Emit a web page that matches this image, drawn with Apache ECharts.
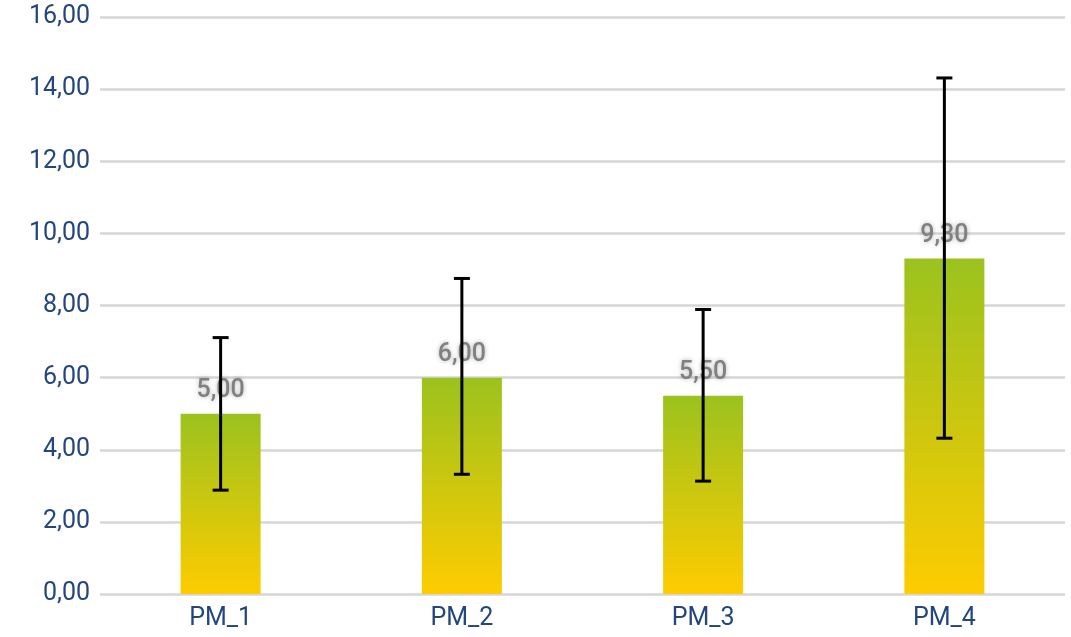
<!DOCTYPE html>
<html>
<head>
<meta charset="utf-8">
<script src="https://cdn.jsdelivr.net/npm/echarts@6/dist/echarts.min.js"></script>
<style>
html,body{margin:0;padding:0;background:#fff;}
#chart{width:1071px;height:637px;}
</style>
</head>
<body>
<div id="chart"></div>
<script>
const categories = ['PM_1', 'PM_2', 'PM_3', 'PM_4'];
const values = [5.00, 6.00, 5.50, 9.30];
const errLow = [2.88, 3.32, 3.13, 4.32];
const errHigh = [7.11, 8.75, 7.89, 14.31];
const yTicks = { min: 0, max: 16, interval: 2 };

const fmt = v => Number(v).toFixed(2).replace('.', ',');
const navy = '#23467f';

const chart = echarts.init(document.getElementById('chart'));
chart.setOption({
  animation: false,
  grid: { left: 100, right: 6, top: 17, bottom: 43, containLabel: false },
  xAxis: {
    type: 'category',
    data: categories,
    axisLine: { show: false },
    axisTick: { show: false },
    axisLabel: { color: navy, fontSize: 25, fontFamily: 'Roboto', margin: 12 }
  },
  yAxis: {
    type: 'value',
    min: yTicks.min, max: yTicks.max, interval: yTicks.interval,
    axisLine: { show: false },
    axisTick: { show: false },
    axisLabel: { color: navy, fontSize: 25, fontFamily: 'Roboto', margin: 10, formatter: fmt },
    splitLine: { lineStyle: { color: '#d6d6d6', width: 2.5 } }
  },
  series: [
    {
      type: 'bar',
      data: values,
      barWidth: 80,
      itemStyle: {
        color: new echarts.graphic.LinearGradient(0, 0, 0, 1, [
          { offset: 0, color: '#9bc21e' },
          { offset: 1, color: '#fecc00' }
        ])
      },
      label: {
        show: true,
        position: 'top',
        distance: 10,
        color: '#808080',
        fontSize: 25,
        fontWeight: 500,
        fontFamily: 'Roboto',
        textShadowColor: 'rgba(0,0,0,0.3)',
        textShadowBlur: 4,
        formatter: p => fmt(p.value)
      },
      z: 2
    },
    {
      type: 'custom',
      data: categories.map((c, i) => [i, errLow[i], errHigh[i]]),
      z: 5,
      renderItem: function (params, api) {
        const x = api.value(0);
        const lo = api.coord([x, api.value(1)]);
        const hi = api.coord([x, api.value(2)]);
        const hw = 8;
        const style = { stroke: '#000', lineWidth: 3 };
        return {
          type: 'group',
          children: [
            { type: 'line', shape: { x1: hi[0], y1: hi[1], x2: lo[0], y2: lo[1] }, style },
            { type: 'line', shape: { x1: hi[0] - hw, y1: hi[1], x2: hi[0] + hw, y2: hi[1] }, style },
            { type: 'line', shape: { x1: lo[0] - hw, y1: lo[1], x2: lo[0] + hw, y2: lo[1] }, style }
          ]
        };
      }
    }
  ]
});
</script>
</body>
</html>
